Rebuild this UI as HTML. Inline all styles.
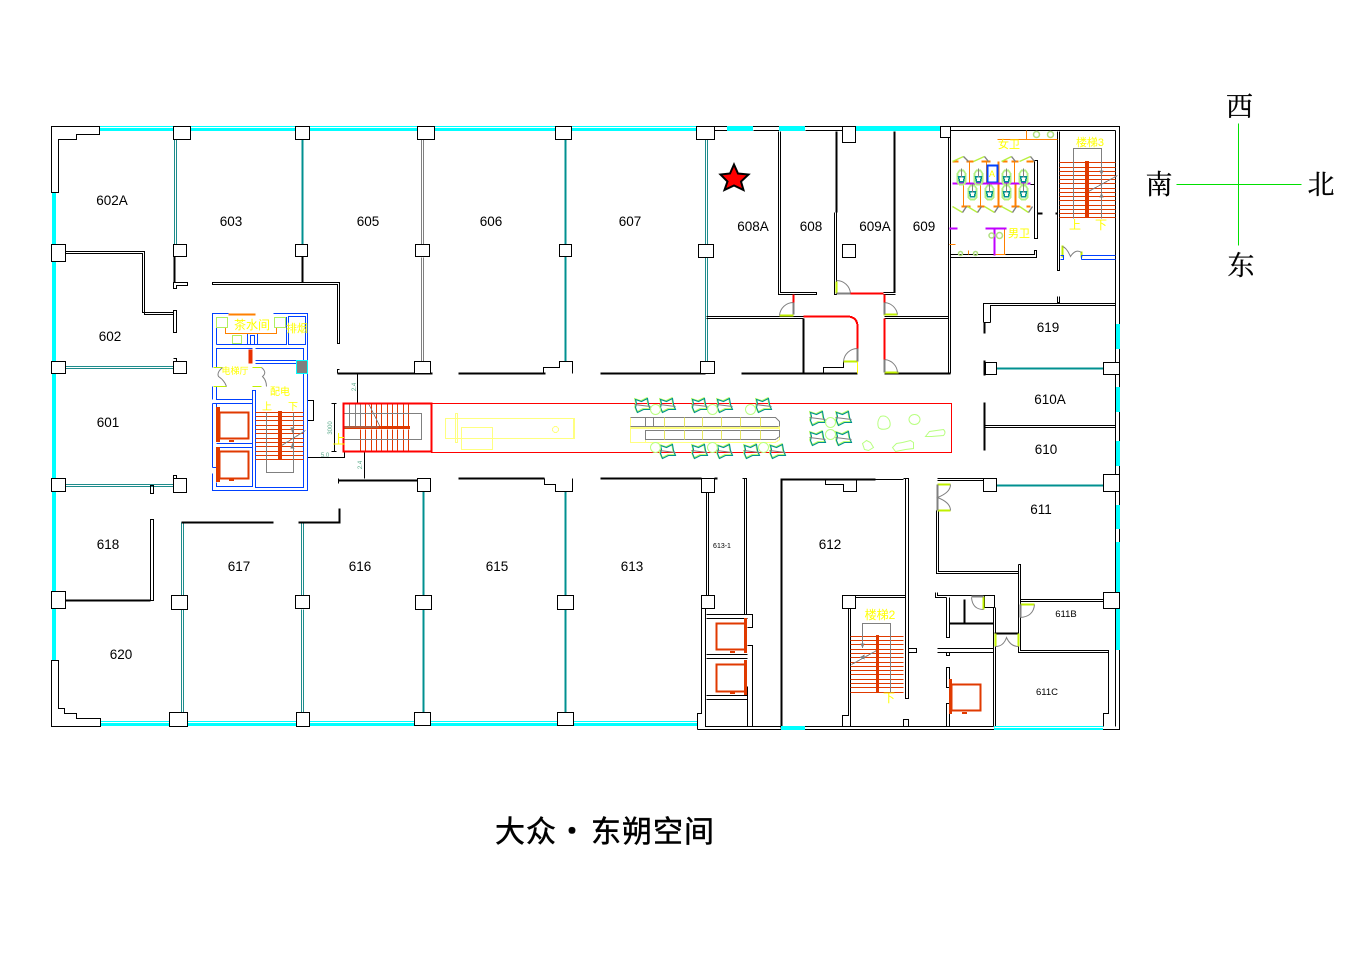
<!DOCTYPE html>
<html><head><meta charset="utf-8"><style>
html,body{margin:0;padding:0;background:#fff}
svg{display:block}
text{stroke:none;font-family:"Liberation Sans","Noto Sans CJK SC",sans-serif}
.r{fill:#000;font-size:13.5px;text-anchor:middle}
.y{fill:#ff0;font-size:11px;text-anchor:middle}
.c{fill:#000;stroke:#000;stroke-width:.3px;font-family:"Noto Serif CJK SC","Noto Sans CJK SC",serif;font-size:27px;text-anchor:middle}
.t{fill:#000;stroke:#000;stroke-width:.5px;font-family:"Noto Sans CJK SC",sans-serif;font-size:30px;text-anchor:middle}
.d{fill:#5aaa8a;font-size:6px;text-anchor:middle}
</style></head><body>
<svg xmlns="http://www.w3.org/2000/svg" width="1362" height="962" viewBox="0 0 1362 962" fill="none" stroke="#000" stroke-width="1" shape-rendering="crispEdges">
<defs>
<g id="seat" shape-rendering="auto"><path d="M-7-6-1-4 5-7 6-1 8 4 1 4-5 7-7 2-6-2Z" stroke="#b8ff60" stroke-width="1.3" transform="translate(-.7,-.7)"/><path d="M-7-6-1-4 5-7 6-1 8 4 1 4-5 7-7 2-6-2Z" stroke="#009090" stroke-width="1.1"/><path d="M-8-1 8 1" stroke="#808080" stroke-width="1"/></g>
<g id="wc"><path d="M-4-3-2-6H2L4-3V6L2 8H-2L-4 6Z" stroke="#b0f080" stroke-width="1.600"/><path d="M-3 0H3L2 5H-2Z" stroke="#009090" stroke-width="1.500"/><path d="M0-8V1" stroke="#808080" stroke-width="1"/></g>
</defs>
<g transform="translate(.5 .5)">

<!-- glazing cyan -->
<g stroke="none" fill="#00ffff" transform="translate(-.5 -.5)">
<rect x="99" y="126" width="598" height="5"/>
<rect x="100" y="721" width="597" height="5"/>
<rect x="52" y="192" width="4" height="468"/>
</g>
<path d="M99 127H697M100 722H697" stroke="#fff" stroke-width="1"/>

<!-- teal partitions thick -->
<g stroke="#009090" stroke-width="2">
<path d="M302 139V244M565 139V244M565 256V361M423 491V595M423 609V712M565 491V595M565 609V712M996 368H1103M996 485H1103"/>
</g>
<!-- teal partitions double -->
<g stroke="#1e8c8c" stroke-width="1">
<path d="M174 139V244M176 139V244M705 139V244M707 139V244M705 257V361M707 257V361"/>
<path d="M65 366H173M65 368H173M65 484H173M65 486H173"/>
<path d="M181 522V595M183 522V595M181 609V712M183 609V712M301 522V595M303 522V595M301 609V712M303 609V712"/>
</g>
<g stroke="#808080" stroke-width="1"><path d="M421 139V244M423 139V244M421 257V361M423 257V361"/></g>

<!-- black walls -->
<g>
<path d="M99 126H51V192H58V139H76V134H99Z"/>
<path d="M51 660V726H100V718H76V713H64V708H58V660Z"/>
<path d="M696 126H1119V729H697M714 130H727M753 130H779M805 130H855M950 130H1115M1115 130V726"/>
<path d="M948 137V373M950 137V373"/>
<path d="M65 251H144V314H173M65 253H142V312H173"/>
<path d="M173 310H176V332H173Z"/>
<path d="M173 358H176V361M173 282H187V285H176V288H173Z"/>
<path d="M212 282H339V343H337V284H212Z"/>
<path d="M778 131V294H816V292H780V131"/>
<path d="M834 212V294H836V212"/>
<path d="M706 316H803M706 318H803M884 316H948M884 318H948"/>
<path d="M883 292H895M883 294H895"/>
<path d="M823 373V367H843V361"/>
<path d="M337 373V369H339M414 373V369H420"/>
<path d="M543 373V367H559V361H572V373"/>
<path d="M357 373V403M364 452V478"/>
<path d="M307 400H313V420H307"/>
<path d="M307 457H344V451"/>
<path d="M334 403V451M331 403H336M331 451H336"/>
<path d="M338 483V478"/>
<path d="M544 478V484H555V491H572V478"/>
<path d="M150 519H153V600H150ZM150 485H153V493H150Z"/>
<path d="M173 478V475H176V478"/>
<path d="M706 492V595M708 492V595M742 478H746V614M744 478V614"/>
<path d="M701 608V713H697V729M705 608V713H705V726H993"/>
<path d="M706 614H752V627H747M706 618H747"/>
<path d="M706 654H747M706 658H747M747 645H752V726M747 686V726M706 695H747M706 699H747"/>
<path d="M825 479V484H843V491H856V479H903M905 478V698H908V478H903"/>
<path d="M842 595H905M855 597H905"/>
<path d="M848 608V715H842V726M850 608V726"/>
<path d="M903 726V719H908V726M908 648H916V652H908"/>
<path d="M937 478H983M937 480H983"/>
<path d="M936 510V573H1018M938 510V571H1018"/>
<path d="M1018 564H1020V633M1018 564V633"/>
<path d="M1020 599H1103M1020 601H1103"/>
<path d="M1018 633V652H1108M1020 633V650H1108V713H1103V726"/>
<path d="M935 592V597H946M937 592V595H984"/>
<path d="M946 597V637H949V597"/>
<path d="M993 595V726M995 607V726"/>
<path d="M937 648H993M937 652H993M946 652V655H949V652"/>
<path d="M946 667V687H949V667ZM946 726V703H949V726"/>
<path d="M983 322V303H1115M990 322V305H1115M983 322H990M1057 296V302H1059V296"/>
<path d="M985 425H1115M985 427H1115"/>
<path d="M1057 131V270H1059V131"/>
<path d="M1034 160H1037V238H1034V184H1030M1034 160V184"/>
<path d="M950 254H1034V250H1036V257H950"/>
</g>
<!-- heavy black -->
<g stroke-width="2">
<path d="M174 256V282M302 256V282M836 131V212M894 131V292M803 318V373M741 373H857M884 373H950"/>
<path d="M337 373H432M458 373H545M600 373H705"/>
<path d="M338 480H417M458 478H544M600 478H701M714 478H717"/>
<path d="M181 522H273M298 522H339V508"/>
<path d="M65 600H150M781 478V728M781 479H875M964 599V623M949 623H993M994 633H1018"/>
<path d="M984 322V333M984 360V375M984 402V450"/>
<path d="M1037 213H1042M1055 213H1057"/>
</g>

<!-- cyan over walls -->
<g stroke="none" fill="#00ffff" transform="translate(-.5 -.5)">
<rect x="727" y="126" width="26" height="5"/><rect x="779" y="126" width="26" height="5"/><rect x="855" y="126" width="85" height="5"/>
<rect x="781" y="726" width="24" height="4"/><rect x="994" y="726" width="109" height="4"/>
<rect x="1116" y="324" width="4" height="25"/><rect x="1116" y="387" width="4" height="25"/><rect x="1116" y="441" width="4" height="25"/>
<rect x="1116" y="505" width="4" height="24"/><rect x="1116" y="542" width="4" height="51"/><rect x="1116" y="608" width="4" height="42"/>
</g>
<path d="M994 727H1103" stroke="#fff"/>

<!-- pillars -->
<g fill="#fff">
<rect x="173" y="126" width="17" height="13"/><rect x="295" y="126" width="14" height="13"/><rect x="417" y="126" width="17" height="13"/><rect x="555" y="126" width="16" height="13"/><rect x="696" y="126" width="18" height="13"/><rect x="842" y="126" width="13" height="16"/>
<path d="M940 126V137H950V126Z"/>
<rect x="173" y="244" width="13" height="12"/><rect x="295" y="244" width="12" height="12"/><rect x="415" y="244" width="14" height="12"/><rect x="559" y="244" width="12" height="12"/><rect x="698" y="244" width="15" height="13"/><rect x="842" y="244" width="13" height="13"/>
<rect x="51" y="244" width="14" height="17"/><rect x="51" y="361" width="14" height="12"/><rect x="51" y="478" width="14" height="13"/><rect x="51" y="591" width="14" height="17"/>
<rect x="173" y="361" width="13" height="12"/><rect x="173" y="478" width="13" height="14"/>
<rect x="414" y="361" width="16" height="12"/><rect x="700" y="361" width="14" height="12"/>
<rect x="417" y="478" width="13" height="13"/><rect x="701" y="478" width="13" height="14"/><rect x="701" y="595" width="13" height="13"/>
<rect x="171" y="595" width="16" height="14"/><rect x="295" y="595" width="14" height="13"/><rect x="415" y="595" width="16" height="14"/><rect x="557" y="595" width="16" height="14"/>
<rect x="169" y="712" width="18" height="14"/><rect x="296" y="712" width="13" height="14"/><rect x="414" y="712" width="16" height="13"/><rect x="557" y="712" width="16" height="13"/>
<rect x="842" y="595" width="13" height="13"/><rect x="983" y="478" width="13" height="13"/><rect x="1103" y="474" width="16" height="17"/><rect x="1103" y="362" width="16" height="12"/><rect x="985" y="362" width="11" height="12"/><rect x="1103" y="592" width="16" height="16"/><rect x="984" y="595" width="10" height="12"/>
</g>

<!-- blue core -->
<g stroke="#0040ff" stroke-width="1">
<path d="M228 313H212V367M273 313H307V490H212V473M212 386V399M212 403V467"/>
<path d="M216 344V317H226M276 317H286V344H216"/>
<path d="M247 344V333H257V344M250 344V335H254V344"/>
<rect x="288" y="316" width="17" height="28"/>
<path d="M216 367V348H252M255 348H303V373M303 373V487H255V390H252V486H216V482M255 360H296M255 363H296M216 386V399H252M216 403H252V443M216 443H252M216 447H252"/>
<path d="M212 403H216V407M212 467H216"/>
</g>
<rect x="296" y="360" width="11" height="13" fill="#808080" stroke="#00ffff"/>
<path d="M228 314H255" stroke="#ff8000" stroke-width="2"/>
<path d="M225 327V333H276V327M216 327H225M276 327H286" stroke="#ff8000"/>
<g stroke="#b0f060"><rect x="216" y="317" width="11" height="10"/><rect x="274" y="317" width="11" height="10"/><rect x="232" y="335" width="9" height="8"/></g>
<rect x="248" y="349" width="4" height="14" fill="#e83000" stroke="none"/>
<path d="M213 367H222M213 386H226M252 367H261M252 386H261" stroke="#c0f000"/>
<g stroke="#808080" stroke-width="1" shape-rendering="auto"><path d="M222 367Q216 372 218 376Q224 380 226 386M261 367Q267 372 262 376Q266 380 266 386"/></g>

<!-- elevators -->
<g stroke="#e03a00" stroke-width="2">
<rect x="219" y="412" width="29" height="26"/><rect x="219" y="451" width="29" height="27"/>
<rect x="716" y="623" width="29" height="26"/><rect x="716" y="664" width="29" height="27"/>
<rect x="951" y="684" width="29" height="26"/>
</g>
<g fill="#e03a00" stroke="none" transform="translate(-.5 -.5)">
<rect x="216" y="407" width="4" height="35"/><rect x="216" y="447" width="4" height="35"/><rect x="229" y="440" width="5" height="2"/><rect x="229" y="479" width="5" height="2"/>
<rect x="744" y="618" width="3" height="35"/><rect x="744" y="660" width="3" height="35"/><rect x="730" y="651" width="5" height="2"/><rect x="730" y="692" width="5" height="2"/>
<rect x="949" y="679" width="3" height="35"/><rect x="962" y="712" width="5" height="2"/>
</g>

<!-- stairs -->
<g stroke="#e03a00" stroke-width="1">
<path d="M255 412H303M255 416H303M255 420H303M255 425H303M255 429H303M255 433H303M255 438H303M255 442H303M255 446H303M255 451H303M255 455H303M255 459H303"/>
<path d="M850 636H903M850 640H903M850 644H903M850 649H903M850 653H903M850 657H903M850 662H903M850 666H903M850 670H903M850 674H903M850 679H903M850 683H903M850 687H903M850 692H903"/>
<path d="M1059 162H1115M1059 167H1115M1059 171H1115M1059 175H1115M1059 179H1115M1059 183H1115M1059 188H1115M1059 192H1115M1059 196H1115M1059 200H1115M1059 205H1115M1059 209H1115M1059 213H1115M1059 217H1115"/>
<path d="M360 403V426M360 429V451M365 403V426M365 429V451M371 403V426M371 429V451M376 403V426M376 429V451M381 403V426M381 429V451M387 403V426M387 429V451M392 403V426M392 429V451M397 403V426M397 429V451M403 403V426M403 429V451M408 403V426M408 429V451"/>
</g>
<g stroke="#808080" stroke-width="1">
<path d="M266 412V472H293V412M278 447L305 430"/>
<path d="M862 645V623H890V692M851 664L878 649"/>
<path d="M1073 218V148H1101V218M1088 191L1117 175"/>
<path d="M343 413H421V439H343M349 403V426M355 403V426M360 403V426"/>
<path d="M368 403L380 427" />
</g>
<g fill="#808080" stroke="none">
<path d="M290 427h4l-2 6zM290 448h4l-2-6zM860 643h4l-2 5zM859 657l5-3v5zM1099 170h4l-2 5zM1099 197h4l-2-5z"/>
</g>
<g fill="#e03a00" stroke="none" transform="translate(-.5 -.5)">
<rect x="278" y="411" width="4" height="48"/>
<rect x="876" y="635" width="3" height="57"/>
<rect x="1085" y="161" width="4" height="57"/>
<rect x="343" y="426" width="67" height="3"/>
</g>
<rect x="343" y="426" width="35" height="1" fill="#808080" stroke="none"/>

<!-- corridor -->
<rect x="343" y="403" width="88" height="48" stroke="#ff0000" stroke-width="2"/>
<rect x="431" y="403" width="520" height="49" stroke="#ff0000"/>
<g stroke="#ffff80" stroke-width="1">
<path d="M445 418H574V438H445ZM461 427H492V449H461ZM455 413H457V442H455ZM573 418V438"/>
<circle cx="555" cy="429" r="3"/>
<path d="M630 417H775L779 421V439L775 442H645M630 417V442H645V430M630 426H779M645 430H779"/>
<path d="M630 427H779" stroke-width="3"/>
</g>
<g stroke="#808080" stroke-width="1"><path d="M630 417H775L779 421V426M645 430H779V436L775 439H645ZM630 426H778M645 417V426M653 417V426"/></g>
<g stroke="#e8e860" stroke-width="1"><path d="M664 417V426M664 430V439M684 417V426M684 430V439M702 417V426M702 430V439M721 417V426M721 430V439M740 417V426M740 430V439M760 417V426M760 430V439"/></g>
<use href="#seat" x="642" y="405"/><use href="#seat" x="667" y="405"/><use href="#seat" x="699" y="405"/><use href="#seat" x="724" y="405"/><use href="#seat" x="763" y="405"/>
<use href="#seat" x="667" y="451"/><use href="#seat" x="699" y="451"/><use href="#seat" x="724" y="451"/><use href="#seat" x="751" y="451"/><use href="#seat" x="777" y="451"/>
<use href="#seat" x="817" y="418"/><use href="#seat" x="843" y="418"/><use href="#seat" x="817" y="438"/><use href="#seat" x="843" y="438"/>
<g stroke="#b8ff80" stroke-width="1" shape-rendering="auto">
<circle cx="655" cy="409" r="5"/><circle cx="712" cy="409" r="5"/><circle cx="750" cy="409" r="5"/><circle cx="655" cy="447" r="5"/><circle cx="712" cy="447" r="5"/><circle cx="763" cy="447" r="5"/><circle cx="830" cy="422" r="5"/><circle cx="830" cy="434" r="5"/>
<path d="M880 416q6-2 9 4q2 6-2 8q-6 2-9-1q-2-6 2-11Z"/><ellipse cx="914" cy="419" rx="5.500" ry="5"/><path d="M925 436l4-5 14-2q3 3 0 6l-12 1Z"/><path d="M866 440l4 2 3 5-5 3-4-1-2-6Z"/><path d="M896 443l6-1 8-2 3 2v6l-8 1-10 2-3-4Z"/>
</g>

<!-- doors -->
<g stroke="#c0f000" stroke-width="2">
<path d="M836 281V293M779 315H793M843 361H857M883 314H897M884 372H898"/>
<path d="M937 484H950M937 510H950M1020 604H1034M983 596V609M995 633V646M1018 633V646M1062 245V257M1081 251V257"/>
</g>
<path d="M857 361V373" stroke="#ffff00"/>
<g stroke="#808080" stroke-width="2">
<path d="M836 293H850M793 302V314M857 348V361M884 302V314M884 359V372M937 484V510M971 596H983M1020 604V617"/>
</g>
<g stroke="#808080" stroke-width="1" shape-rendering="auto">
<path d="M836 280A14 14 0 0 1 850 293M793 302A14 14 0 0 0 779 315M857 348A14 14 0 0 0 843 361M884 302A14 14 0 0 1 897 314M884 359A14 14 0 0 1 897 372"/>
<path d="M950 484Q950 492 937 497Q950 502 950 510M971 597Q972 609 983 609M1034 604Q1033 616 1020 617M995 646Q1003 646 1006 637Q1010 646 1018 646M1062 246Q1066 247 1070 256Q1075 248 1081 252"/>
</g>
<!-- red walls -->
<g stroke="#ff0000" stroke-width="2">
<path d="M793 294V302M850 293H883M803 316H848Q857 317 857 326V348M884 294V302M884 318V359"/>
</g>

<!-- toilets -->
<g stroke="#ff8000" stroke-width="1">
<path d="M969 161V183M986 161V183M1014 161V183M963 183V206M980 183V206M949 244H955M994 254H1005M1004 228V254M997 139H1057M1026 130V139M968 250V254"/>
</g>
<g stroke="#ff8000" stroke-width="2"><path d="M952 161H958M966 161H973M981 161H990M1002 161H1007M1011 161H1018M1026 161H1033M961 206H970M977 206H984M993 206H1002M1011 206H1019M1026 206H1030M998 183V206M1015 183V206M998 161V183"/></g>
<rect x="987" y="165" width="10" height="17" stroke="#0040ff" stroke-width="2"/>
<path d="M952 183H1030M949 228H957M985 228H1006" stroke="#c000ff" stroke-width="2"/>
<path d="M994 228V255" stroke="#c000ff" stroke-width="2"/>
<g stroke-width="1.400" shape-rendering="auto">
<path stroke="#b8f040" d="M952 161L963 156M973 161L984 156M1001 161L1011 156M1019 161L1030 156M952 206L962 212M967 206L977 212M984 206L994 212M1001 206L1012 212M1019 206L1028 212"/>
<path stroke="#808080" d="M963 156L968 161M984 156L988 161M1011 156L1015 161M1030 156L1034 161M962 212L966 206M977 212L981 206M994 212L998 206M1012 212L1016 206M1028 212L1032 206"/>
</g>
<use href="#wc" x="961" y="176"/><use href="#wc" x="978" y="176"/><use href="#wc" x="1006" y="176"/><use href="#wc" x="1023" y="176"/>
<use href="#wc" x="972" y="191"/><use href="#wc" x="989" y="191"/><use href="#wc" x="1006" y="191"/><use href="#wc" x="1023" y="191"/>
<g stroke="#b0e080" stroke-width="1.500" shape-rendering="auto"><circle cx="1036" cy="134" r="3"/><circle cx="1050" cy="134" r="3"/><circle cx="991" cy="235" r="2.500"/><circle cx="999" cy="235" r="3"/><circle cx="960" cy="253" r="2"/><circle cx="975" cy="253" r="2"/></g>
<path d="M1060 255H1063V259H1060M1081 255H1115M1081 259H1115M1081 255V259" stroke="#0040ff"/>

<!-- star -->
<g shape-rendering="auto"><polygon points="733.500,164 737.500,173 748,174 740.500,181 743,189.500 733.500,185 724,189.500 727,181 720,174 729.500,173" fill="#ff0000" stroke="#000" stroke-width="2"/></g>

<!-- compass -->
<path d="M1176 184H1301M1238 123V245" stroke="#00e000" stroke-width="1"/>
</g>

<!-- labels -->
<g>
<text class="r" x="112" y="205">602A</text><text class="r" x="231" y="226">603</text><text class="r" x="368" y="226">605</text><text class="r" x="491" y="226">606</text><text class="r" x="630" y="226">607</text>
<text class="r" x="753" y="231">608A</text><text class="r" x="811" y="231">608</text><text class="r" x="875" y="231">609A</text><text class="r" x="924" y="231">609</text>
<text class="r" x="110" y="341">602</text><text class="r" x="108" y="427">601</text><text class="r" x="108" y="549">618</text><text class="r" x="121" y="659">620</text>
<text class="r" x="239" y="571">617</text><text class="r" x="360" y="571">616</text><text class="r" x="497" y="571">615</text><text class="r" x="632" y="571">613</text><text class="r" x="830" y="549">612</text>
<text class="r" x="1048" y="332">619</text><text class="r" x="1050" y="404">610A</text><text class="r" x="1046" y="454">610</text><text class="r" x="1041" y="514">611</text>
<text class="r" x="1066" y="617" style="font-size:9.500px">611B</text><text class="r" x="1047" y="695" style="font-size:9.500px">611C</text><text class="r" x="722" y="548" style="font-size:7px">613-1</text>

<text class="y" x="252" y="329" style="font-size:12px">茶水间</text><text class="y" x="297" y="332" style="font-size:11px">排烟</text>
<text class="y" x="235" y="374" style="font-size:9px">电梯厅</text><text class="y" x="280" y="395" style="font-size:10px">配电</text>
<text class="y" x="267" y="410" style="font-size:10px">上</text><text class="y" x="293" y="410" style="font-size:10px">下</text><text class="y" x="339" y="444" style="font-size:13px">上</text>
<text class="y" x="880" y="619" style="font-size:12px">楼梯2</text><text class="y" x="889" y="702" style="font-size:12px">下</text>
<text class="y" x="1090" y="146" style="font-size:11px">楼梯3</text><text class="y" x="1075" y="229" style="font-size:12px">上</text><text class="y" x="1101" y="229" style="font-size:12px">下</text>
<text class="y" x="1009" y="148" style="font-size:11px">女卫</text><text class="y" x="1019" y="237" style="font-size:11px">男卫</text><text class="y" x="992" y="177" style="font-size:9px">A</text>

<text class="d" x="325" y="457">5.0</text><text class="d" transform="translate(356,387) rotate(-90)">2.4</text><text class="d" transform="translate(362,465) rotate(-90)">2.4</text><text class="d" transform="translate(332,428) rotate(-90)">3000</text>

<text class="c" x="1239.500" y="116">西</text><text class="c" x="1159" y="194">南</text><text class="c" x="1321" y="194">北</text><text class="c" x="1241" y="275">东</text>
<text class="t" x="510" y="842">大</text><text class="t" x="541" y="842">众</text><text class="t" x="572" y="842">·</text><text class="t" x="606" y="842">东</text><text class="t" x="637" y="842">朔</text><text class="t" x="668" y="842">空</text><text class="t" x="699" y="842">间</text>
</g>
</svg>
</body></html>
